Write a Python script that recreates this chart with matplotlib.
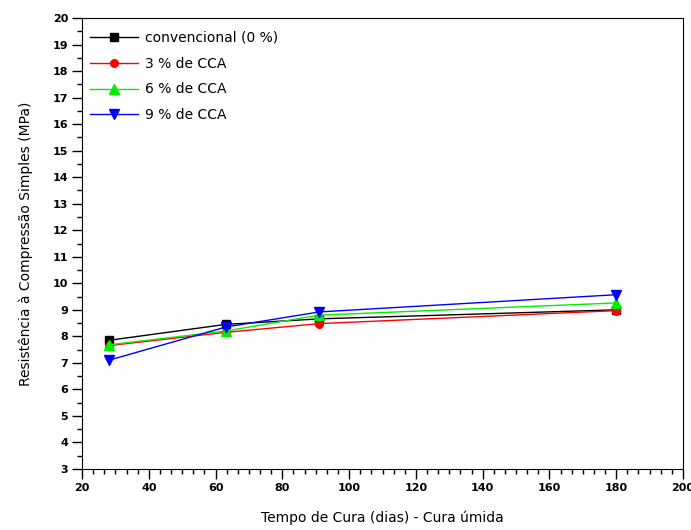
import numpy as np
import matplotlib
matplotlib.use('Agg')
import matplotlib.pyplot as plt
from matplotlib.ticker import MultipleLocator

dias = [28, 63, 91, 180]
convencional = [7.85, 8.45, 8.66, 9.0]
cca3 = [7.65, 8.15, 8.48, 8.97]
cca6 = [7.68, 8.2, 8.8, 9.26]
cca9 = [7.1, 8.35, 8.92, 9.57]

series = [
    ('convencional (0 %)', convencional, 'black', 's', 6),
    ('3 % de CCA', cca3, 'red', 'o', 5.5),
    ('6 % de CCA', cca6, '#00ee00', '^', 6.5),
    ('9 % de CCA', cca9, 'blue', 'v', 6.5),
]

fig = plt.figure(figsize=(6.91, 5.30), dpi=100)
ax = fig.add_axes([0.1187, 0.1151, 0.8697, 0.8509])

for label, vals, color, marker, ms in series:
    ax.plot(dias, vals, color=color, marker=marker, markersize=ms,
            linewidth=1.0, label=label)

ax.set_xlim(20, 200)
ax.set_ylim(3, 20)
ax.xaxis.set_major_locator(MultipleLocator(20))
ax.xaxis.set_minor_locator(MultipleLocator(20 / 6))
ax.yaxis.set_major_locator(MultipleLocator(1))
ax.yaxis.set_minor_locator(MultipleLocator(0.5))
ax.tick_params(which='major', direction='out', length=7, width=1,
               labelsize=8, pad=3)
ax.tick_params(which='minor', direction='out', length=3.5, width=1)
for lbl in ax.get_xticklabels() + ax.get_yticklabels():
    lbl.set_fontweight('bold')

ax.set_xlabel('Tempo de Cura (dias) - Cura úmida', fontsize=10, labelpad=13)
ax.set_ylabel('Resistência à Compressão Simples (MPa)', fontsize=10, labelpad=14)

ax.legend(loc='upper left', frameon=False, fontsize=10, handlelength=3.4,
          handletextpad=0.5, labelspacing=0.85, borderaxespad=0.2,
          bbox_to_anchor=(0.0, 0.99))

fig.savefig('out.png', dpi=100)
